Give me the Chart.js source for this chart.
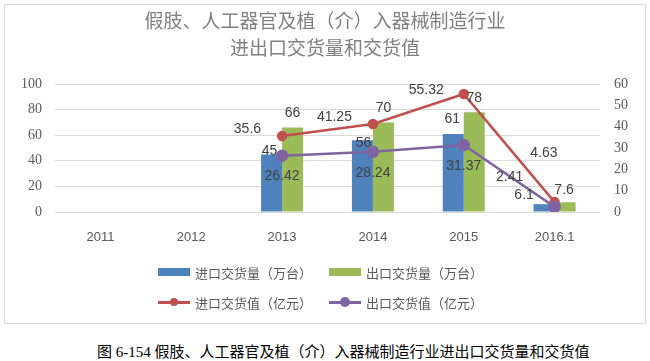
<!DOCTYPE html>
<html><head><meta charset="utf-8">
<script src="https://cdn.jsdelivr.net/npm/chart.js@4/dist/chart.umd.min.js"></script>
<style>
html,body{margin:0;padding:0;background:#fff;width:650px;height:361px;overflow:hidden;}
#frame{position:absolute;left:4px;top:4px;width:640px;height:318px;border:1px solid #d9d9d9;}
#c{position:absolute;left:0;top:0;}
#title{position:absolute;left:0;top:1px;width:640px;text-align:center;font-family:"Noto Sans CJK SC";font-size:19px;line-height:27px;color:#808080;}
#legend{position:absolute;left:153px;top:252px;display:grid;grid-template-columns:171px 171px;grid-auto-rows:30px;}
.item{display:flex;align-items:center;height:30px;font-family:"Noto Sans CJK SC";font-size:13px;color:#595959;white-space:nowrap;}
.mk{position:relative;width:32px;height:14px;margin-right:5px;flex:none;}
.mk .bar{position:absolute;left:0;top:3px;width:32px;height:8px;}
.mk .ln{position:absolute;left:0;top:6px;width:32px;height:3px;}
.mk .dot{position:absolute;left:50%;top:50%;border-radius:50%;transform:translate(-50%,-50%);}
#caption{position:absolute;left:97px;top:342px;white-space:nowrap;font-family:"Liberation Serif","Noto Sans CJK SC";font-size:15px;line-height:20px;color:#000;}
</style></head>
<body>
<div id="frame">
<canvas id="c" width="640" height="318"></canvas>
<div id="title">假肢、人工器官及植（介）入器械制造行业<br>进出口交货量和交货值</div>
<div id="legend"></div>
</div>
<div id="caption">图 6-154 假肢、人工器官及植（介）入器械制造行业进出口交货量和交货值</div>
<script>
const categories = ['2011', '2012', '2013', '2014', '2015', '2016.1'];
const importQty = [null, null, 45, 56, 61, 6.1];
const exportQty = [null, null, 66, 70, 78, 7.6];
const importValue = [null, null, 35.6, 41.25, 55.32, 4.63];
const exportValue = [null, null, 26.42, 28.24, 31.37, 2.41];
const leftTicks = [0, 20, 40, 60, 80, 100];
const rightTicks = [0, 10, 20, 30, 40, 50, 60];
const seriesNames = ['进口交货量（万台）', '出口交货量（万台）', '进口交货值（亿元）', '出口交货值（亿元）'];

const BLUE = '#4F81BD', GREEN = '#9BBB59', RED = '#C0504D', PURPLE = '#8064A2';

const valueLabels = {
  id: 'valueLabels',
  afterDatasetsDraw(chart) {
    const ctx = chart.ctx;
    chart.data.datasets.forEach((ds, i) => {
      const meta = chart.getDatasetMeta(i);
      const L = ds.valueLabel;
      if (!L) return;
      meta.data.forEach((el, j) => {
        const v = ds.data[j];
        if (v === null || v === undefined) return;
        const n = (L.nudge && L.nudge[j]) || [0, 0];
        ctx.save();
        ctx.font = '14px "Liberation Sans"';
        ctx.fillStyle = '#404040';
        ctx.textAlign = L.align;
        ctx.textBaseline = 'middle';
        ctx.fillText(String(v), el.x + L.dx + n[0], el.y + L.dy + n[1]);
        ctx.restore();
      });
    });
  }
};

const chart = new Chart(document.getElementById('c'), {
  type: 'bar',
  data: {
    labels: categories,
    datasets: [
      { type: 'bar', label: seriesNames[0], data: importQty, backgroundColor: BLUE, yAxisID: 'y', order: 2,
        categoryPercentage: 0.4624, barPercentage: 1,
        valueLabel: { align: 'center', dx: 0, dy: -14, nudge: { 2: [-2, 11], 3: [1, 17], 4: [-1, -1], 5: [-20, 5] } } },
      { type: 'bar', label: seriesNames[1], data: exportQty, backgroundColor: GREEN, yAxisID: 'y', order: 2,
        categoryPercentage: 0.4624, barPercentage: 1,
        valueLabel: { align: 'center', dx: 0, dy: -14, nudge: { 5: [-1, 2] } } },
      { type: 'line', label: seriesNames[2], data: importValue, borderColor: RED, backgroundColor: RED, yAxisID: 'y1', order: 1,
        borderWidth: 2.5, pointRadius: 4, pointBackgroundColor: RED, pointBorderColor: RED,
        valueLabel: { align: 'right', dx: -21, dy: -7, nudge: { 4: [1, 3], 5: [24, -42] } } },
      { type: 'line', label: seriesNames[3], data: exportValue, borderColor: PURPLE, backgroundColor: PURPLE, yAxisID: 'y1', order: 0,
        borderWidth: 2.5, pointRadius: 5, pointBackgroundColor: PURPLE, pointBorderColor: PURPLE,
        valueLabel: { align: 'center', dx: 0, dy: 21, nudge: { 5: [-45, -51] } } }
    ]
  },
  options: {
    responsive: false,
    animation: false,
    layout: { padding: { top: 79, bottom: 71, left: 0, right: 0 } },
    plugins: { legend: { display: false }, title: { display: false }, tooltip: { enabled: false } },
    scales: {
      x: {
        grid: { display: false, drawTicks: false },
        border: { display: false },
        ticks: { color: '#595959', font: { family: 'Liberation Sans', size: 13 }, padding: 18 },
        afterFit(s) { s.height = 40; }
      },
      y: {
        position: 'left', min: leftTicks[0], max: leftTicks[leftTicks.length - 1],
        afterBuildTicks(s) { s.ticks = leftTicks.map(v => ({ value: v })); },
        grid: { color: '#d9d9d9', drawTicks: false, lineWidth: 1 },
        border: { display: false },
        ticks: { color: '#595959', font: { family: 'Liberation Serif', size: 14 }, padding: 13 },
        afterFit(s) { s.width = 50; }
      },
      y1: {
        position: 'right', min: rightTicks[0], max: rightTicks[rightTicks.length - 1],
        afterBuildTicks(s) { s.ticks = rightTicks.map(v => ({ value: v })); },
        grid: { display: false, drawTicks: false },
        border: { display: false },
        ticks: { color: '#595959', font: { family: 'Liberation Serif', size: 14 }, padding: 14 },
        afterFit(s) { s.width = 45; }
      }
    }
  },
  plugins: [valueLabels]
});

// HTML legend built from the chart's datasets
const legendEl = document.getElementById('legend');
chart.data.datasets.forEach(ds => {
  const item = document.createElement('div');
  item.className = 'item';
  const mk = document.createElement('span');
  mk.className = 'mk';
  if (ds.type === 'bar') {
    const b = document.createElement('span'); b.className = 'bar'; b.style.background = ds.backgroundColor; mk.appendChild(b);
  } else {
    const l = document.createElement('span'); l.className = 'ln'; l.style.background = ds.borderColor; mk.appendChild(l);
    const d = document.createElement('span'); d.className = 'dot';
    const r = ds.pointRadius * 2; d.style.width = r + 'px'; d.style.height = r + 'px'; d.style.background = ds.borderColor; mk.appendChild(d);
  }
  item.appendChild(mk);
  const t = document.createElement('span'); t.textContent = ds.label; item.appendChild(t);
  legendEl.appendChild(item);
});
</script>
</body></html>
